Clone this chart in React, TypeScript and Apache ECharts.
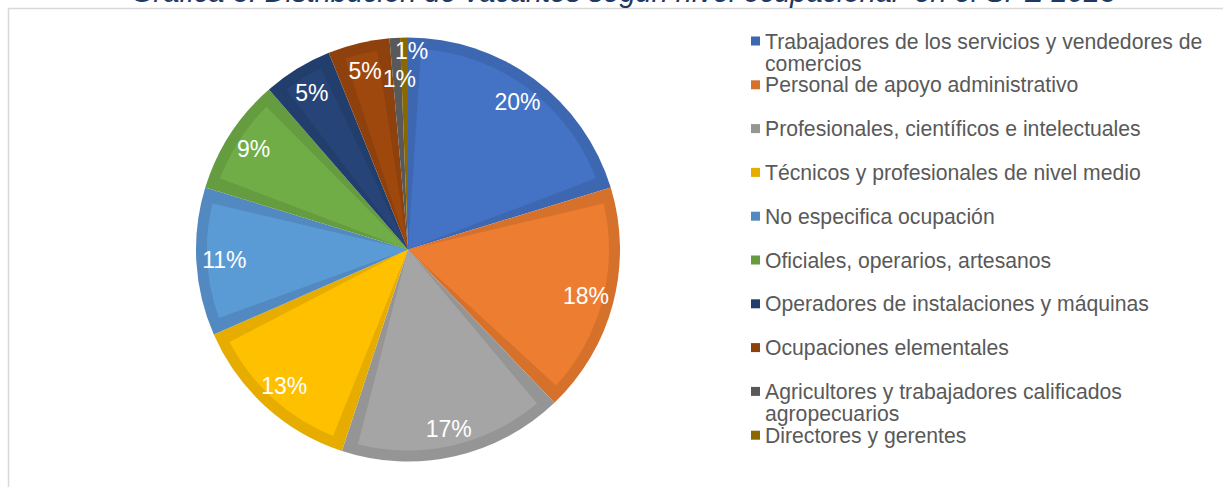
import React, { useEffect, useRef } from "react";
import * as echarts from "echarts";

const TITLE = "Gráfica 3. Distribución de vacantes según nivel ocupacional  en el SPE 2023";

const categories = [
  "Trabajadores de los servicios y vendedores de comercios",
  "Personal de apoyo administrativo",
  "Profesionales, científicos e intelectuales",
  "Técnicos y profesionales de nivel medio",
  "No especifica ocupación",
  "Oficiales, operarios, artesanos",
  "Operadores de instalaciones y máquinas",
  "Ocupaciones elementales",
  "Agricultores y trabajadores calificados agropecuarios",
  "Directores y gerentes",
];

const shares = [20.3, 17.6, 17.2, 13.4, 11.3, 8.9, 5.3, 4.7, 0.8, 0.6];

const fillColors = ["#4472C4", "#ED7D31", "#A5A5A5", "#FFC000", "#5B9BD5", "#70AD47", "#264478", "#9E480E", "#636363", "#997300"];
const edgeColors = ["#3E67B2", "#D6712C", "#959595", "#E6AD00", "#5289C0", "#659C40", "#223E6C", "#8E410D", "#595959", "#8A6800"];

// label tweaks for the two thin slices (offset in px)
const labelOffsets: Record<number, number[]> = { 8: [3, 13], 9: [7, -15] };

function wrapLines(name: string, max = 45): string[] {
  const words = name.split(" ");
  const lines: string[] = [];
  let cur = "";
  for (const w of words) {
    const next = cur ? cur + " " + w : w;
    if (next.length > max && cur) {
      lines.push(cur);
      cur = w;
    } else cur = next;
  }
  if (cur) lines.push(cur);
  return lines;
}

export default function App() {
  const ref = useRef<HTMLDivElement>(null);
  useEffect(() => {
    if (!ref.current) return;
    const chart = echarts.init(ref.current, undefined, { renderer: "svg" });
    const center = [408, 249.5];
    const R = 212;
    const band = 11;
    const font = "Liberation Sans";
    const total = shares.reduce((a, b) => a + b, 0);
    const gapVal = (7.5 / 360) * total; // visual inset between the light inner wedges
    const clear = "rgba(0,0,0,0)";
    const innerData: any[] = [];
    categories.forEach((c, i) => {
      const v = shares[i];
      if (v <= gapVal) {
        innerData.push({ name: "", value: v, itemStyle: { color: clear } });
      } else {
        innerData.push({ name: "", value: gapVal / 2, itemStyle: { color: clear } });
        innerData.push({ name: c, value: v - gapVal, itemStyle: { color: fillColors[i] } });
        innerData.push({ name: "", value: gapVal / 2, itemStyle: { color: clear } });
      }
    });

    const pitch = 43.8;
    const firstIcon = 41;
    const lineH = 22;
    const textStyle = { color: "#595959", fontSize: 21.2, fontFamily: font, lineHeight: lineH };
    const legendBase = {
      orient: "vertical",
      left: 751,
      padding: 0,
      itemWidth: 9,
      itemHeight: 9,
      itemGap: pitch - lineH,
      icon: "rect",
      selectedMode: false,
      textStyle,
      // wrapped names get an empty leading line so that the first line sits level with the marker
      formatter: (n: string) => {
        const lines = wrapLines(n);
        return lines.length > 1 ? "\n" + lines.join("\n") : lines[0];
      },
    };

    chart.setOption({
      animation: false,
      backgroundColor: "#ffffff",
      graphic: [
        {
          type: "rect",
          shape: { x: 8.5, y: 8.5, width: 1400, height: 700 },
          style: { fill: "none", stroke: "#D9D9D9", lineWidth: 1.5 },
          silent: true,
        },
        {
          type: "text",
          x: 623.5,
          y: -8,
          style: {
            text: TITLE,
            fontSize: 29,
            fontStyle: "italic",
            fontFamily: font,
            fill: "#203864",
            align: "center",
            verticalAlign: "middle",
          },
          silent: true,
        },
      ],
      legend: [
        { ...legendBase, top: firstIcon - 1.5 * lineH, data: [categories[0]] },
        { ...legendBase, top: firstIcon + pitch - lineH / 2, data: categories.slice(1, 8) },
        { ...legendBase, top: firstIcon + 8 * pitch - 1.5 * lineH, data: [categories[8]] },
        { ...legendBase, top: firstIcon + 9 * pitch - lineH / 2, data: [categories[9]] },
      ],
      series: [
        {
          type: "pie",
          name: "base",
          center,
          radius: R,
          startAngle: 90,
          clockwise: true,
          silent: true,
          label: { show: false },
          labelLine: { show: false },
          emphasis: { disabled: true },
          data: categories.map((c, i) => ({ name: c, value: shares[i], itemStyle: { color: edgeColors[i] } })),
        },
        {
          type: "pie",
          name: "fill",
          center,
          radius: R - band,
          startAngle: 90,
          clockwise: true,
          silent: true,
          label: { show: false },
          labelLine: { show: false },
          emphasis: { disabled: true },
          data: innerData,
        },
        {
          type: "pie",
          name: "labels",
          center,
          radius: [150, R],
          startAngle: 90,
          clockwise: true,
          silent: true,
          emphasis: { disabled: true },
          itemStyle: { color: clear },
          labelLine: { show: false },
          label: {
            show: true,
            position: "inside",
            color: "#ffffff",
            fontSize: 23,
            fontFamily: font,
            formatter: (p: any) => Math.round(p.percent) + "%",
          },
          data: categories.map((c, i) => ({
            name: c,
            value: shares[i],
            itemStyle: { color: clear },
            label: labelOffsets[i] ? { offset: labelOffsets[i] } : undefined,
          })),
        },
      ],
    });
    return () => chart.dispose();
  }, []);
  return (
    <div
      ref={ref}
      style={{ position: "fixed", left: 0, top: 0, width: 1223, height: 487, background: "#fff" }}
    />
  );
}
